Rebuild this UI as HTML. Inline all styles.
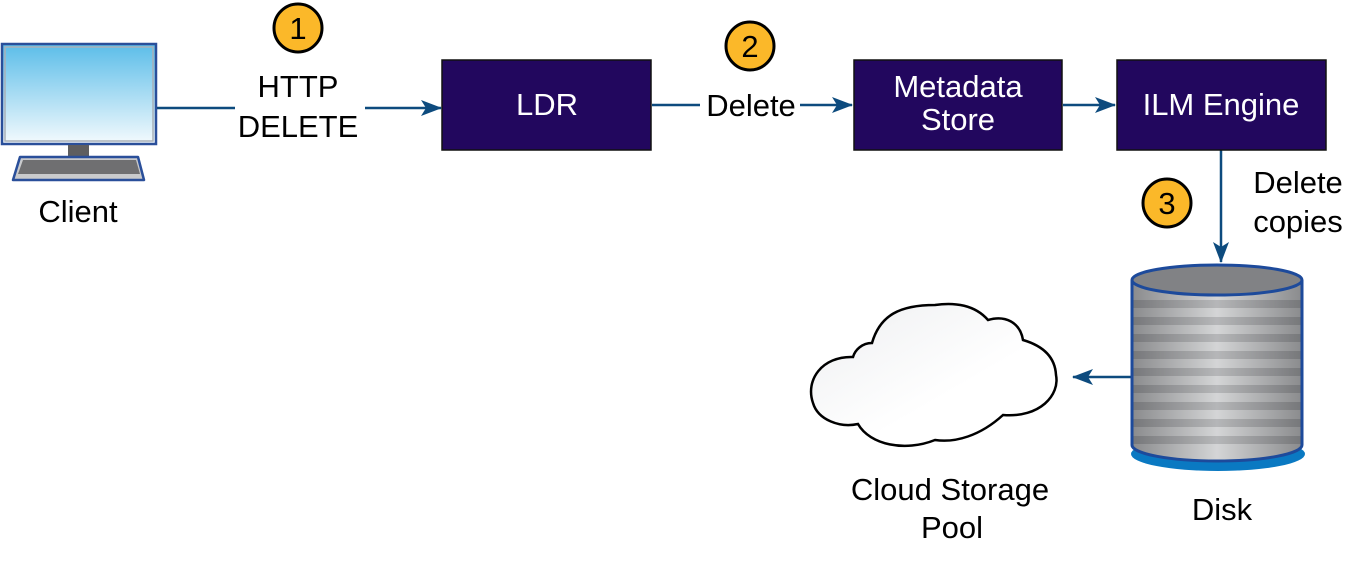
<!DOCTYPE html>
<html><head><meta charset="utf-8"><style>
html,body{margin:0;padding:0;background:#fff;}
svg{display:block;font-family:"Liberation Sans",Arial,sans-serif;}
</style></head><body>
<svg width="1365" height="564" viewBox="0 0 1365 564" xmlns="http://www.w3.org/2000/svg">
<defs>
<linearGradient id="scr" x1="0" y1="0" x2="0" y2="1"><stop offset="0" stop-color="#5bbde9"/><stop offset="1" stop-color="#f4fafd"/></linearGradient>
<linearGradient id="cyl" x1="0" y1="0" x2="1" y2="0"><stop offset="0" stop-color="#8a8b8d"/><stop offset="0.5" stop-color="#d4d5d6"/><stop offset="1" stop-color="#8a8b8d"/></linearGradient>
<linearGradient id="cyl2" x1="0" y1="0" x2="1" y2="0"><stop offset="0" stop-color="#6e6f72"/><stop offset="0.5" stop-color="#a9aaac"/><stop offset="1" stop-color="#6e6f72"/></linearGradient>
<linearGradient id="cl" x1="0" y1="0" x2="1" y2="1"><stop offset="0" stop-color="#eeeff1"/><stop offset="0.6" stop-color="#fff"/></linearGradient>
<marker id="ah2" markerWidth="22" markerHeight="16" refX="20" refY="8" orient="auto" markerUnits="userSpaceOnUse"><path d="M0,0 L21,8 L0,16 L5,8 Z" fill="#0d4b7e"/></marker>
<clipPath id="cc"><path d="M1132,280 V445 A85,16 0 0 0 1302,445 V280 Z"/></clipPath>
</defs>
<!-- monitor -->
<rect x="2" y="44" width="154" height="100" fill="url(#scr)" stroke="#2a4f9a" stroke-width="2.5"/>
<rect x="5" y="47" width="148" height="94" fill="none" stroke="#a8b0b8" stroke-width="1.5"/>
<rect x="68" y="145" width="21" height="11" fill="#5e5e60"/>
<path d="M20,157 H138 L144,180 H13 Z" fill="#c9cacc" stroke="#2a4f9a" stroke-width="2.5" stroke-linejoin="round"/>
<path d="M23,160 H136 L140,174 H18 Z" fill="#6f6f71"/>
<text x="78" y="222" font-size="31" text-anchor="middle">Client</text>
<!-- circles -->
<g font-size="31" text-anchor="middle">
<circle cx="298" cy="28" r="24" fill="#fbb829" stroke="#000" stroke-width="3"/><text x="298" y="39">1</text>
<circle cx="750" cy="46" r="24" fill="#fbb829" stroke="#000" stroke-width="3"/><text x="750" y="57">2</text>
<circle cx="1167" cy="203" r="24" fill="#fbb829" stroke="#000" stroke-width="3"/><text x="1167" y="214">3</text>
</g>
<!-- edges -->
<g stroke="#0d4b7e" stroke-width="2.5" fill="none">
<line x1="157" y1="108" x2="235" y2="108"/>
<line x1="365" y1="108" x2="441" y2="108" marker-end="url(#ah2)"/>
<line x1="652" y1="105" x2="700" y2="105"/>
<line x1="800" y1="105" x2="852" y2="105" marker-end="url(#ah2)"/>
<line x1="1063" y1="105" x2="1115" y2="105" marker-end="url(#ah2)"/>
<line x1="1221" y1="150" x2="1221" y2="262" marker-end="url(#ah2)"/>
<line x1="1140" y1="377" x2="1073" y2="377" marker-end="url(#ah2)"/>
</g>
<g font-size="31" text-anchor="middle">
<text x="298" y="97">HTTP</text><text x="298" y="137">DELETE</text>
<text x="751" y="116">Delete</text>
<text x="1298" y="193">Delete</text><text x="1298" y="232">copies</text>
</g>
<!-- boxes -->
<g fill="#22075e" stroke="#111" stroke-width="1.5">
<rect x="442" y="60" width="209" height="90"/>
<rect x="854" y="60" width="208" height="90"/>
<rect x="1117" y="60" width="209" height="90"/>
</g>
<g fill="#fff" font-size="31" text-anchor="middle">
<text x="547" y="115">LDR</text>
<text x="958" y="97">Metadata</text><text x="958" y="130">Store</text>
<text x="1221" y="115">ILM Engine</text>
</g>
<!-- disk -->
<ellipse cx="1218" cy="454" rx="87" ry="17" fill="#0a79c2"/>
<g clip-path="url(#cc)">
<rect x="1132" y="280" width="170" height="190" fill="url(#cyl)"/>
<g fill="url(#cyl2)" opacity="0.7">
<rect x="1132" y="300" width="170" height="8"/><rect x="1132" y="317" width="170" height="8"/>
<rect x="1132" y="334" width="170" height="8"/><rect x="1132" y="351" width="170" height="8"/>
<rect x="1132" y="368" width="170" height="8"/><rect x="1132" y="385" width="170" height="8"/>
<rect x="1132" y="402" width="170" height="8"/><rect x="1132" y="419" width="170" height="8"/>
<rect x="1132" y="436" width="170" height="8"/>
</g>
</g>
<path d="M1132,280 V445 A85,16 0 0 0 1302,445 V280" fill="none" stroke="#1d4a9b" stroke-width="3"/>
<ellipse cx="1217" cy="280" rx="85" ry="15" fill="#818285" stroke="#1d4a9b" stroke-width="3"/>
<text x="1222" y="520" font-size="31" text-anchor="middle">Disk</text>
<!-- cloud -->
<path d="M853,357 C822,356 805,380 813,403 C818,420 840,428 858,424 C870,445 905,452 935,440 C955,443 980,436 1003,415 C1040,418 1060,395 1056,375 C1055,355 1040,345 1023,340 C1020,322 1005,315 988,320 C975,305 955,302 935,305 C900,305 880,315 872,343 C862,343 855,350 853,357 Z" fill="url(#cl)" stroke="#000" stroke-width="2.5"/>
<text x="950" y="500" font-size="31" text-anchor="middle">Cloud Storage</text>
<text x="952" y="538" font-size="31" text-anchor="middle">Pool</text>
</svg>
</body></html>
